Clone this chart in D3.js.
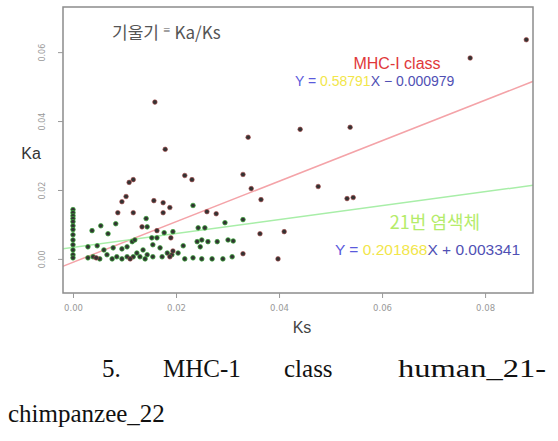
<!DOCTYPE html>
<html>
<head>
<meta charset="utf-8">
<script src="https://cdn.jsdelivr.net/npm/d3@7"></script>
<style>
  body { margin: 0; background: #fff; }
  svg { display: block; }
</style>
</head>
<body>
<div id="chart"></div>
<script>
// data: [Ks, Ka]
const mhcPoints = [
  [0.0880, 0.0636], [0.0771, 0.0583], [0.0159, 0.0455], [0.0179, 0.0318],
  [0.0340, 0.0353], [0.0441, 0.0376], [0.0538, 0.0382], [0.0117, 0.0230],
  [0.0109, 0.0222], [0.0217, 0.0242], [0.0231, 0.0230], [0.0330, 0.0245],
  [0.0346, 0.0204], [0.0365, 0.0172], [0.0532, 0.0175], [0.0544, 0.0178],
  [0.0476, 0.0210], [0.0103, 0.0181], [0.0095, 0.0166], [0.0157, 0.0169],
  [0.0175, 0.0163], [0.0188, 0.0149], [0.0175, 0.0134], [0.0087, 0.0134],
  [0.0117, 0.0134], [0.0260, 0.0137], [0.0278, 0.0131], [0.0363, 0.0073],
  [0.0410, 0.0079], [0.0398, 0.0000], [0.0134, 0.0093], [0.0163, 0.0082],
  [0.0190, 0.0061], [0.0194, 0.0023], [0.0330, 0.0015], [0.0045, 0.0003],
  [0.0111, 0.0000], [0.0188, 0.0006]
];
const chr21Points = [
  [0, 0.0143], [0, 0.0134], [0, 0.0125], [0, 0.0117], [0, 0.0108], [0, 0.0096],
  [0, 0.0085], [0, 0.0070], [0, 0.0055], [0, 0.0041], [0, 0.0026], [0, 0.0012],
  [0, 0.0003],
  [0.0295, 0.0105], [0.0330, 0.0114], [0.0233, 0.0155], [0.0243, 0.0090],
  [0.0256, 0.0090], [0.0054, 0.0096], [0.0037, 0.0082], [0.0068, 0.0073],
  [0.0083, 0.0102], [0.0142, 0.0117], [0.0144, 0.0093], [0.0177, 0.0076],
  [0.0194, 0.0079], [0.0214, 0.0038], [0.0241, 0.0050], [0.0250, 0.0055],
  [0.0262, 0.0050], [0.0280, 0.0050], [0.0301, 0.0055], [0.0311, 0.0052],
  [0.0247, 0.0035], [0.0233, 0.0003], [0.0250, 0.0000], [0.0270, 0.0000],
  [0.0291, 0.0000], [0.0309, 0.0006],
  [0.0029, 0.0035], [0.0047, 0.0038], [0.0060, 0.0026], [0.0078, 0.0032],
  [0.0095, 0.0029], [0.0105, 0.0035], [0.0115, 0.0050], [0.0120, 0.0055],
  [0.0124, 0.0017], [0.0136, 0.0026], [0.0153, 0.0061], [0.0163, 0.0061],
  [0.0155, 0.0041], [0.0169, 0.0032], [0.0183, 0.0017], [0.0192, 0.0012],
  [0.0144, 0.0012], [0.0066, 0.0012], [0.0085, 0.0006], [0.0105, 0.0006],
  [0.0117, 0.0006], [0.0130, 0.0006], [0.0155, 0.0006], [0.0173, 0.0006],
  [0.0204, 0.0017], [0.0029, 0.0003], [0.0039, 0.0006], [0.0052, 0.0000],
  [0.0076, 0.0000], [0.0095, 0.0000], [0.0140, 0.0000], [0.0217, 0.0000]
];
// fitted lines: slope, intercept
const mhcFit = {slope: 0.58791, intercept: -0.000979};
const chr21Fit = {slope: 0.201868, intercept: 0.003341};
const xTicks = [0, 0.02, 0.04, 0.06, 0.08];
const yTicks = [0, 0.02, 0.04, 0.06];

const width = 558, height = 441;
const box = {left: 63, top: 7, right: 533, bottom: 293};

const svg = d3.select("#chart").append("svg")
  .attr("width", width)
  .attr("height", height);

const x = d3.scaleLinear().domain([-0.00194, 0.0893]).range([box.left, box.right]);
const y = d3.scaleLinear().domain([-0.0099, 0.0731]).range([box.bottom, box.top]);

svg.append("clipPath").attr("id", "clip")
  .append("rect")
  .attr("x", box.left).attr("y", box.top)
  .attr("width", box.right - box.left).attr("height", box.bottom - box.top);

// regression lines
const fits = [
  {fit: mhcFit, color: "#f4a3a8"},
  {fit: chr21Fit, color: "#a8eea8"}
];
svg.append("g").attr("clip-path", "url(#clip)")
  .selectAll("line")
  .data(fits)
  .enter()
  .append("line")
  .attr("x1", x(-0.002))
  .attr("y1", d => y(d.fit.slope * -0.002 + d.fit.intercept))
  .attr("x2", x(0.09))
  .attr("y2", d => y(d.fit.slope * 0.09 + d.fit.intercept))
  .attr("stroke", d => d.color)
  .attr("stroke-width", 1.5);

// points
const dots = svg.append("g");
dots.selectAll(".chr21")
  .data(chr21Points)
  .enter()
  .append("circle")
  .attr("class", "chr21")
  .attr("cx", d => x(d[0]))
  .attr("cy", d => y(d[1]))
  .attr("r", 2.3)
  .attr("fill", "#333")
  .attr("stroke", "#3aa83a")
  .attr("stroke-opacity", 0.75)
  .attr("stroke-width", 1);

dots.selectAll(".mhc")
  .data(mhcPoints)
  .enter()
  .append("circle")
  .attr("class", "mhc")
  .attr("cx", d => x(d[0]))
  .attr("cy", d => y(d[1]))
  .attr("r", 2.3)
  .attr("fill", "#333")
  .attr("stroke", "#a84848")
  .attr("stroke-opacity", 0.6)
  .attr("stroke-width", 1);

// frame
svg.append("rect")
  .attr("x", box.left).attr("y", box.top)
  .attr("width", box.right - box.left).attr("height", box.bottom - box.top)
  .attr("fill", "none")
  .attr("stroke", "#8c8c8c")
  .attr("stroke-width", 1.5);

// axes
const xAxis = svg.append("g")
  .attr("transform", `translate(0,${box.bottom})`)
  .call(d3.axisBottom(x).tickValues(xTicks).tickSize(5).tickPadding(7)
    .tickFormat(d3.format(".2f")));
xAxis.select(".domain").remove();
xAxis.selectAll("line").attr("stroke", "#999");
xAxis.selectAll("text")
  .attr("fill", "#999")
  .style("font-family", "DejaVu Sans, sans-serif")
  .style("font-size", "8.5px");

const yAxis = svg.append("g")
  .attr("transform", `translate(${box.left},0)`)
  .call(d3.axisLeft(y).tickValues(yTicks).tickSize(5).tickPadding(0)
    .tickFormat(d3.format(".2f")));
yAxis.select(".domain").remove();
yAxis.selectAll("line").attr("stroke", "#999");
yAxis.selectAll("text")
  .attr("x", 0).attr("dy", null)
  .attr("transform", "translate(-21,0) rotate(-90)")
  .attr("text-anchor", "middle")
  .attr("dominant-baseline", "central")
  .attr("fill", "#999")
  .style("font-family", "DejaVu Sans, sans-serif")
  .style("font-size", "8px");

// axis titles
svg.append("text")
  .attr("x", 302).attr("y", 333)
  .attr("text-anchor", "middle")
  .attr("fill", "#444")
  .style("font-family", "Liberation Sans, Arial, sans-serif")
  .style("font-size", "16px")
  .text("Ks");

svg.append("text")
  .attr("x", 31).attr("y", 159)
  .attr("text-anchor", "middle")
  .attr("fill", "#333")
  .style("font-family", "Liberation Sans, Arial, sans-serif")
  .style("font-size", "16px")
  .text("Ka");

// slope note
const note = svg.append("text")
  .attr("x", 112).attr("y", 39)
  .attr("fill", "#555")
  .style("font-family", "Noto Sans CJK KR, sans-serif")
  .style("font-size", "17px");
note.append("tspan").text("기울기 ");
note.append("tspan").attr("font-size", "8px").attr("dy", -6).text("≡");
note.append("tspan").attr("dy", 6).text(" Ka/Ks");

// MHC label and equation
svg.append("text")
  .attr("x", 397).attr("y", 69)
  .attr("text-anchor", "middle")
  .attr("fill", "#e0383a")
  .style("font-family", "Liberation Sans, Arial, sans-serif")
  .style("font-size", "16px")
  .text("MHC-I class");

function equation(xPos, yPos, size, slope, rest) {
  const t = svg.append("text")
    .attr("x", xPos).attr("y", yPos)
    .style("font-family", "Liberation Sans, Arial, sans-serif")
    .style("font-size", size + "px");
  t.append("tspan").attr("fill", "#5a5adc").text("Y = ");
  t.append("tspan").attr("fill", "#f2e64a").text(slope);
  t.append("tspan").attr("fill", "#5050b4").text(rest);
}
equation(295, 86, 14, "0.58791", "X − 0.000979");

svg.append("text")
  .attr("x", 435).attr("y", 229)
  .attr("text-anchor", "middle")
  .attr("fill", "#b4ec6a")
  .style("font-family", "Noto Sans CJK KR, sans-serif")
  .style("font-size", "18px")
  .text("21번 염색체");

equation(335, 255, 15.5, "0.201868", "X + 0.003341");

// caption below the figure
const captionWords = [
  {text: "5.", x: 102, y: 377},
  {text: "MHC-1", x: 163, y: 377},
  {text: "class", x: 284, y: 377},
  {text: "human_21-", x: 398, y: 377, len: 148},
  {text: "chimpanzee_22", x: 8, y: 422}
];
svg.selectAll(".caption")
  .data(captionWords)
  .enter()
  .append("text")
  .attr("class", "caption")
  .attr("x", d => d.x)
  .attr("y", d => d.y)
  .attr("textLength", d => d.len || null)
  .attr("lengthAdjust", "spacingAndGlyphs")
  .attr("fill", "#111")
  .style("font-family", "Liberation Serif, Times New Roman, serif")
  .style("font-size", "25px")
  .text(d => d.text);
</script>
</body>
</html>
